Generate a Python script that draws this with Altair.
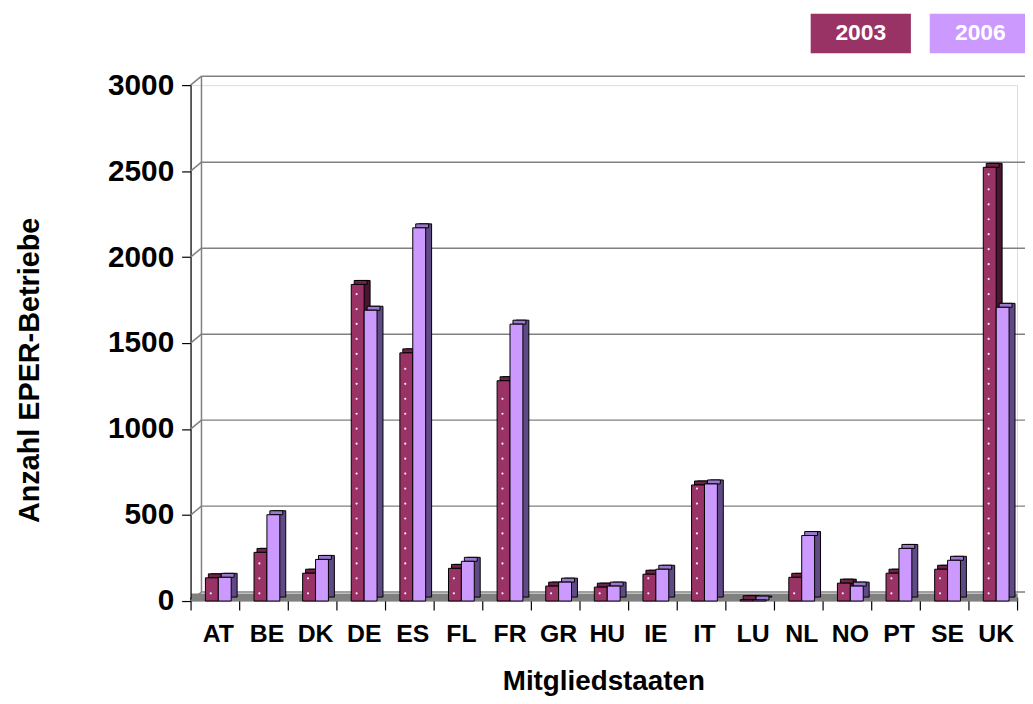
import altair as alt
import pandas as pd

countries = ["AT", "BE", "DK", "DE", "ES", "FL", "FR", "GR", "HU", "IE",
             "IT", "LU", "NL", "NO", "PT", "SE", "UK"]
years = ["2003", "2006"]
v2003 = [135, 283, 162, 1841, 1443, 190, 1281, 87, 81, 156, 675, 8, 138, 104, 162, 185, 2522]
v2006 = [138, 502, 242, 1691, 2170, 231, 1610, 110, 87, 185, 681, 6, 381, 87, 306, 237, 1708]
tick_values = [0, 500, 1000, 1500, 2000, 2500, 3000]

front_colors = {"2003": "#993366", "2006": "#CC99FF"}
side_colors = {"2003": "#4A1530", "2006": "#5F4A85"}
top_colors = {"2003": "#6E2448", "2006": "#9A78CC"}

rows = []
for c, a, b in zip(countries, v2003, v2006):
    rows.append({"country": c, "year": "2003", "value": a})
    rows.append({"country": c, "year": "2006", "value": b})
df = pd.DataFrame(rows)
grid_df = pd.DataFrame({"v": tick_values})

W, H = 833, 520
FONT = "Liberation Sans"

yscale = alt.Scale(domain=[0, 3000], nice=False)
yaxis = alt.Axis(values=tick_values, format="d", grid=False,
                 labelFont=FONT, labelFontSize=30, labelFontWeight="bold",
                 labelColor="black", labelPadding=8,
                 domainColor="black", domainWidth=1.2,
                 tickColor="black", tickSize=9, tickWidth=1.2,
                 title="Anzahl EPER-Betriebe", titleFont=FONT, titleFontSize=29,
                 titleFontWeight="bold", titleColor="black",
                 titleAngle=270, titleX=-162, titleY=287,
                 titleAlign="center", titleBaseline="middle")
xaxis = alt.Axis(labelAngle=0, labelFont=FONT, labelFontSize=25,
                 labelFontWeight="bold", labelColor="black",
                 labelPadding=12, labelOffset=3,
                 tickBand="extent", tickSize=13, tickColor="black", tickWidth=1.2,
                 domainColor="#808080", domainWidth=8, offset=-4,
                 title="Mitgliedstaaten", titleFont=FONT, titleFontSize=28,
                 titleFontWeight="bold", titleColor="black",
                 titleX=416, titleY=93, titleAlign="center",
                 titleBaseline="alphabetic")

x_enc = alt.X("country:N", sort=countries,
              scale=alt.Scale(domain=countries, paddingInner=0, paddingOuter=0),
              axis=xaxis)


def xo(shift_align):
    return alt.XOffset("year:N",
                       scale=alt.Scale(domain=years, paddingInner=0,
                                       paddingOuter=0.885, align=shift_align))


y_enc = alt.Y("value:Q", scale=yscale, axis=yaxis)

layers = []

# back wall gridlines and decorations
grid = alt.Chart(grid_df).mark_rule(
    color="#808080", strokeWidth=1.5, yOffset=-9, y2Offset=-9
).encode(
    y=alt.Y("v:Q", scale=yscale, axis=yaxis),
    x=alt.value(11), x2=alt.value(W + 20),
)
diag = alt.Chart(grid_df).mark_rule(
    color="#808080", strokeWidth=1.5, y2Offset=-9
).encode(
    y=alt.Y("v:Q", scale=yscale, axis=yaxis), y2="v:Q",
    x=alt.value(0), x2=alt.value(11),
)
wall = alt.Chart(pd.DataFrame({"a": [0], "b": [3000]})).mark_rule(
    color="#808080", strokeWidth=1.5, yOffset=-9, y2Offset=-9
).encode(
    y=alt.Y("a:Q", scale=yscale, axis=yaxis), y2="b:Q",
    x=alt.value(11),
)
layers += [grid, diag, wall]

base = alt.Chart(df)
for yr in years:
    sub = base.transform_filter(alt.datum.year == yr)
    side = sub.mark_bar(color=side_colors[yr], stroke="black", strokeWidth=1,
                        yOffset=-4, y2Offset=-4).encode(
        x=x_enc, xOffset=xo(0.91), y=y_enc)
    top = sub.mark_bar(color=top_colors[yr], stroke="black", strokeWidth=1,
                       yOffset=-4).encode(
        x=x_enc, xOffset=xo(0.78), y=y_enc, y2="value:Q")
    front = sub.mark_bar(color=front_colors[yr], stroke="black",
                         strokeWidth=1).encode(
        x=x_enc, xOffset=xo(0.65), y=y_enc)
    layers += [side, top, front]
    if yr == "2003":
        # white dotted fill texture of the 2003 bars
        dots = sub.transform_calculate(
            dot="sequence(45, datum.value - 20, 87)"
        ).transform_flatten(["dot"]).mark_point(
            shape="circle", filled=True, color="white", size=5, opacity=0.9
        ).encode(
            x=x_enc, xOffset=xo(0.65),
            y=alt.Y("dot:Q", scale=yscale, axis=yaxis),
        )
        layers.append(dots)

# legend boxes
leg_x = {"2003": (625, 726), "2006": (745, 847)}
for yr in years:
    ldf = pd.DataFrame({"year": [yr]})
    box = alt.Chart(ldf).mark_rect(color=front_colors[yr]).encode(
        x=alt.value(leg_x[yr][0]), x2=alt.value(leg_x[yr][1]),
        y=alt.value(-72), y2=alt.value(-32))
    txt = alt.Chart(ldf).mark_text(
        color="white", font=FONT, fontSize=23, fontWeight="bold",
        align="center", baseline="middle"
    ).encode(
        text="year:N",
        x=alt.value((leg_x[yr][0] + leg_x[yr][1]) / 2), y=alt.value(-52))
    layers += [box, txt]

chart = alt.layer(*layers).resolve_scale(xOffset="independent").properties(
    width=W, height=H,
    autosize=alt.AutoSizeParams(type="none"),
    padding={"left": 184, "top": 75, "right": 8, "bottom": 93},
    background="white",
).configure_view(stroke=None).configure(font=FONT)

chart.save("out.html", embed_options={"renderer": "svg", "actions": False})
